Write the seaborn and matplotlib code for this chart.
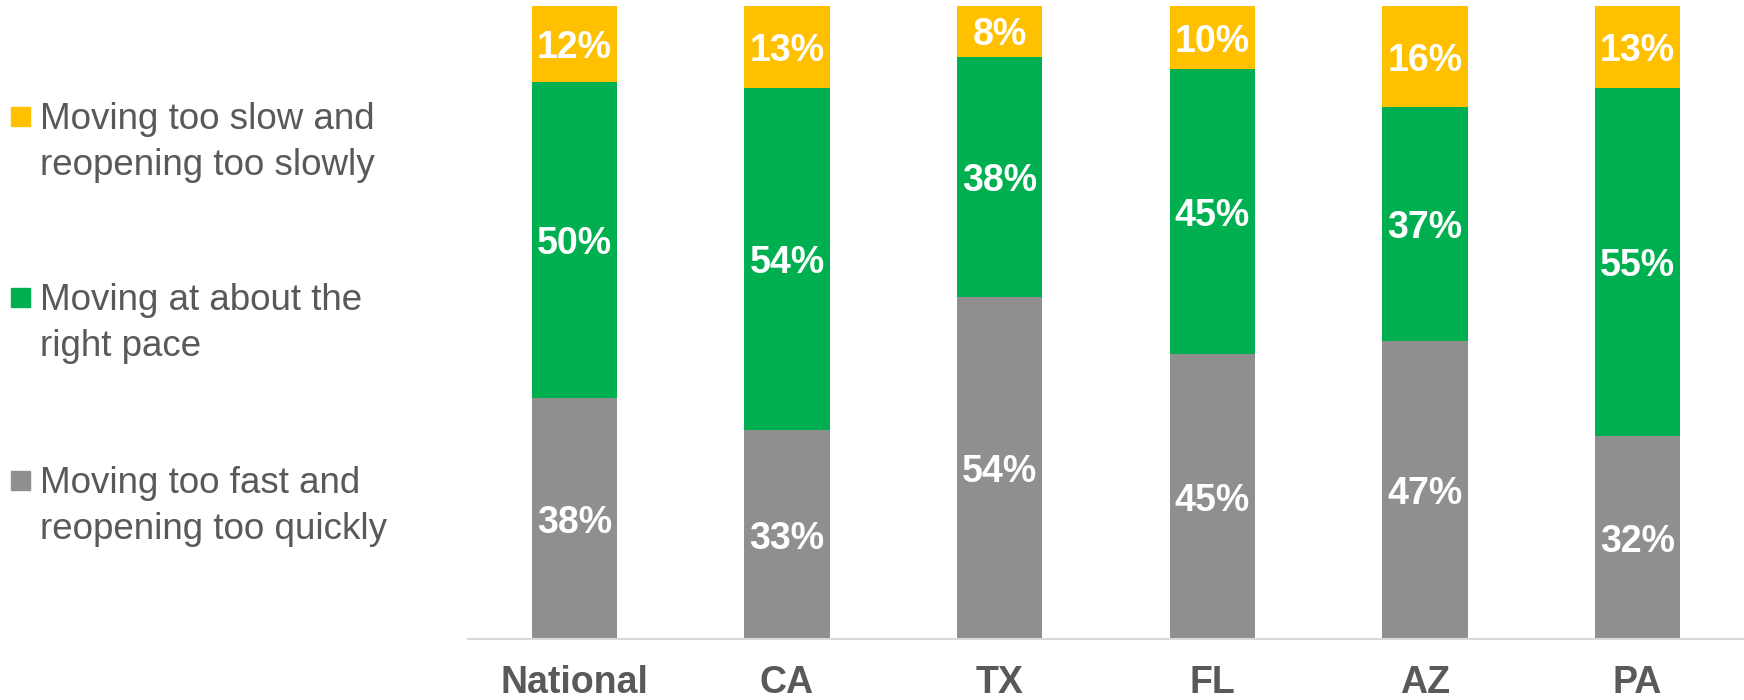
import matplotlib
matplotlib.use("Agg")
import matplotlib.pyplot as plt
import numpy as np
import pandas as pd
import seaborn as sns
from matplotlib.patches import Rectangle

# data
regions = ["National", "CA", "TX", "FL", "AZ", "PA"]
too_fast = [38, 33, 54, 45, 47, 32]
right_pace = [50, 54, 38, 45, 37, 55]
too_slow = [12, 13, 8, 10, 16, 13]

series_labels = [
    "Moving too slow and\nreopening too slowly",
    "Moving at about the\nright pace",
    "Moving too fast and\nreopening too quickly",
]
series_colors = ["#FFC000", "#00B050", "#8F8F8F"]

text_gray = "#595959"

sns.set_theme(style="white")
plt.rcParams["font.family"] = ["Liberation Sans", "DejaVu Sans"]

df = pd.DataFrame({
    "region": regions,
    "fast": too_fast,
    "right": right_pace,
    "slow": too_slow,
})
df["cum_right"] = df["fast"] + df["right"]
df["cum_slow"] = df["cum_right"] + df["slow"]

fig = plt.figure(figsize=(17.44, 7), dpi=100)
ax = fig.add_axes([468 / 1744, 1 - 639 / 700, 1 - 468 / 1744, 633 / 700])

# stacked by overdrawing cumulative totals
sns.barplot(data=df, x="region", y="cum_slow", color=series_colors[0],
            width=0.4, saturation=1, ax=ax, linewidth=0)
sns.barplot(data=df, x="region", y="cum_right", color=series_colors[1],
            width=0.4, saturation=1, ax=ax, linewidth=0)
sns.barplot(data=df, x="region", y="fast", color=series_colors[2],
            width=0.4, saturation=1, ax=ax, linewidth=0)

for i, r in df.iterrows():
    segs = [(0, r["fast"]), (r["fast"], r["right"]), (r["cum_right"], r["slow"])]
    for bottom, v in segs:
        ax.text(i, bottom + v / 2, f"{v}%", ha="center", va="center_baseline",
                color="white", fontsize=27, fontweight="bold")

ax.set_xlim(-0.5, 5.5)
ax.set_ylim(0, 100)
ax.set_xlabel("")
ax.set_ylabel("")
ax.set_yticks([])
ax.tick_params(axis="x", length=0, pad=19)
for lab in ax.get_xticklabels():
    lab.set_fontsize(27)
    lab.set_fontweight("bold")
    lab.set_color(text_gray)

sns.despine(ax=ax, left=True, top=True, right=True)
ax.spines["bottom"].set_color("#D9D9D9")
ax.spines["bottom"].set_linewidth(1.5)

# legend on the left, square marker beside the first line
sq_tops = [107, 288, 471]
for lab, col, top in zip(series_labels, series_colors, sq_tops):
    fig.patches.append(Rectangle((11 / 1744, 1 - (top + 19) / 700), 19 / 1744, 19 / 700,
                                 transform=fig.transFigure, color=col))
    fig.text(40 / 1744, 1 - (top - 5) / 700, lab, ha="left", va="top",
             fontsize=26.5, color=text_gray, linespacing=1.4)

fig.savefig("out.png", dpi=100)
